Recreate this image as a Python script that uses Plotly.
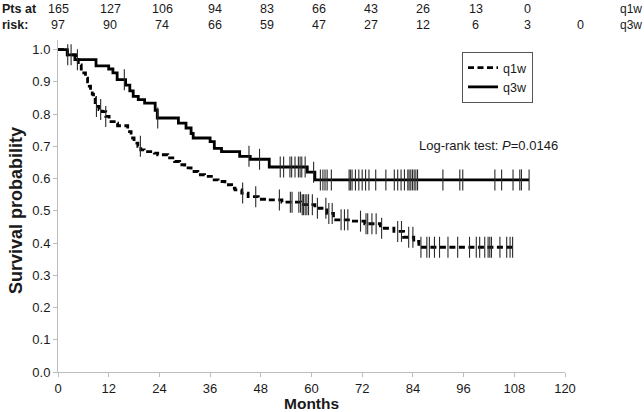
import numpy as np
import plotly.graph_objects as go

# ---------------- data ----------------
month_ticks = list(range(0, 121, 12))
y_ticks = [round(0.1 * i, 1) for i in range(11)]

# q1w (dashed) Kaplan-Meier step points: start time of each level, survival level
q1w_t = [0, 2.2, 4.2, 4.8, 5.5, 6.1, 6.5, 7.0, 7.4, 7.7, 8.1, 8.4, 8.8, 9.7, 10.5, 11.3,
         12.1, 13.3, 14.1, 16.5, 17.3, 18.0, 18.9, 19.6, 20.4, 22.8, 23.6, 26.0, 27.6,
         28.8, 30.0, 31.5, 33.1, 34.7, 36.3, 37.9, 39.5, 41.1, 41.9, 43.5, 45.0, 47.4,
         49.8, 53.0, 57.5, 60.8, 63.6, 65.2, 69.5, 72.6, 76.3, 79.5, 81.8, 84.2, 85.4]
q1w_s = [1.0, 0.984, 0.969, 0.953, 0.940, 0.928, 0.912, 0.900, 0.887, 0.876, 0.862, 0.850,
         0.824, 0.814, 0.808, 0.793, 0.777, 0.772, 0.764, 0.746, 0.726, 0.710, 0.700, 0.689,
         0.684, 0.679, 0.674, 0.664, 0.653, 0.643, 0.633, 0.622, 0.612, 0.607, 0.596, 0.591,
         0.581, 0.570, 0.565, 0.555, 0.544, 0.536, 0.534, 0.527, 0.519, 0.508, 0.492, 0.472,
         0.468, 0.460, 0.446, 0.436, 0.418, 0.405, 0.387]
q1w_end = 107.6
q1w_censor = [2.3, 4.6, 9.1, 10.1, 11.3, 19.5, 43.7, 46.8, 52.4, 55.0, 55.4, 57.0, 57.4,
              57.8, 58.1, 58.5, 58.9, 59.3, 60.2, 61.4, 63.4, 64.1, 64.9, 67.0, 67.8, 68.6,
              71.6, 72.9, 73.3, 74.3, 75.3, 76.6, 80.4, 81.3, 83.0, 84.0, 85.9, 87.3, 87.9,
              89.1, 90.3, 92.3, 94.6, 97.4, 99.0, 99.8, 101.0, 101.8, 102.2, 102.6, 104.6,
              106.2, 107.0, 107.6]

# q3w (solid)
q3w_t = [0, 2.2, 4.0, 9.0, 12.0, 13.0, 14.0, 16.0, 17.0, 17.8, 19.0, 20.5, 23.0, 23.5,
         28.5, 30.3, 31.5, 32.0, 36.0, 37.0, 38.7, 43.0, 45.5, 50.0, 59.0, 60.8]
q3w_s = [1.0, 0.984, 0.969, 0.950, 0.940, 0.928, 0.907, 0.890, 0.872, 0.855, 0.845, 0.834,
         0.812, 0.788, 0.772, 0.757, 0.740, 0.726, 0.715, 0.694, 0.684, 0.669, 0.660, 0.636,
         0.620, 0.596]
q3w_end = 111.5
q3w_censor = [3.1, 15.7, 23.6, 45.2, 47.7, 52.6, 53.4, 54.9, 55.3, 56.1, 56.9, 57.3, 57.7,
              58.5, 60.5, 62.1, 62.7, 63.2, 63.7, 64.7, 68.9, 69.2, 69.6, 70.4, 71.2, 72.0,
              72.8, 73.6, 75.2, 77.6, 79.6, 80.4, 81.2, 82.0, 82.8, 83.1, 83.5, 83.9, 84.3,
              84.7, 85.1, 91.1, 95.1, 95.8, 103.4, 105.0, 107.7, 109.3, 109.7, 111.5]

risk_q1w = ["165", "127", "106", "94", "83", "66", "43", "26", "13", "0", ""]
risk_q3w = ["97", "90", "74", "66", "59", "47", "27", "12", "6", "3", "0"]
group_names = ["q1w", "q3w"]

# ---------------- helpers ----------------
def step_path(ts, ss, end):
    return list(ts) + [end], list(ss) + [ss[-1]]

def level_at(ts, ss, times):
    idx = np.searchsorted(np.array(ts), np.array(times), side="right") - 1
    return np.array(ss)[idx]

W, H = 644, 412
ML, MR, MT, MB = 58, 79, 40, 40
PW, PH = W - ML - MR, H - MT - MB

def px(xp):
    return (xp - ML) / PW

def py(yp):
    return (H - MB - yp) / PH

FONT = "Liberation Sans, Arial, sans-serif"
TXT = "#1a1a1a"
AX = "#bdbdbd"

fig = go.Figure()

x1, y1 = step_path(q1w_t, q1w_s, q1w_end)
fig.add_trace(go.Scatter(x=x1, y=y1, mode="lines", name=group_names[0],
                         line=dict(shape="hv", color="black", width=2.8, dash="6px,3.5px")))
x3, y3 = step_path(q3w_t, q3w_s, q3w_end)
fig.add_trace(go.Scatter(x=x3, y=y3, mode="lines", name=group_names[1],
                         line=dict(shape="hv", color="black", width=2.8)))

for ts, ss, cens in [(q1w_t, q1w_s, q1w_censor), (q3w_t, q3w_s, q3w_censor)]:
    fig.add_trace(go.Scatter(x=cens, y=level_at(ts, ss, cens), mode="markers",
                             showlegend=False, hoverinfo="skip",
                             marker=dict(symbol="line-ns", size=15,
                                         line=dict(width=1.1, color="#2a2a2a"))))

ann = []
# risk table
col_x0, col_dx = 58, 52.2
RF = 12.5
ann.append(dict(text="<b>Pts at</b>", x=px(0), y=py(9), xref="paper", yref="paper",
                xanchor="left", yanchor="middle", showarrow=False,
                font=dict(size=RF, color=TXT, family=FONT)))
ann.append(dict(text="<b>risk:</b>", x=px(0), y=py(25), xref="paper", yref="paper",
                xanchor="left", yanchor="middle", showarrow=False,
                font=dict(size=RF, color=TXT, family=FONT)))
for row, (vals, yy) in enumerate([(risk_q1w, 9), (risk_q3w, 25)]):
    for i, v in enumerate(vals):
        if v == "":
            continue
        ann.append(dict(text=v, x=px(col_x0 + i * col_dx), y=py(yy), xref="paper",
                        yref="paper", xanchor="center", yanchor="middle", showarrow=False,
                        font=dict(size=RF, color=TXT, family=FONT)))
    ann.append(dict(text=group_names[row], x=px(618), y=py(yy), xref="paper", yref="paper",
                    xanchor="left", yanchor="middle", showarrow=False,
                    font=dict(size=12, color=TXT, family=FONT)))

ann.append(dict(text="Log-rank test: <i>P</i>=0.0146", x=px(560), y=py(145),
                xref="paper", yref="paper", xanchor="right", yanchor="middle",
                showarrow=False, font=dict(size=13, color=TXT, family=FONT)))
ann.append(dict(text="<b>Months</b>", x=px((ML + W - MR) / 2), y=py(403), xref="paper",
                yref="paper", xanchor="center", yanchor="middle", showarrow=False,
                font=dict(size=15.5, color=TXT, family=FONT)))
ann.append(dict(text="<b>Survival probability</b>", x=px(16), y=py(211), xref="paper",
                yref="paper", xanchor="center", yanchor="middle", textangle=-90,
                showarrow=False, font=dict(size=18, color=TXT, family=FONT)))

fig.update_layout(
    width=W, height=H, margin=dict(l=ML, r=MR, t=MT, b=MB),
    plot_bgcolor="white", paper_bgcolor="white",
    font=dict(family=FONT, color=TXT, size=12),
    annotations=ann,
    legend=dict(x=px(462), y=py(52), xanchor="left", yanchor="top",
                bgcolor="white", bordercolor="#555", borderwidth=1,
                font=dict(size=12.5, color=TXT, family=FONT),
                tracegroupgap=0, itemwidth=30),
    xaxis=dict(range=[0, 120], tickvals=month_ticks, showgrid=False, zeroline=False,
               showline=True, linecolor=AX, linewidth=1, ticks="outside", ticklen=4,
               tickcolor=AX, tickfont=dict(size=13, color=TXT)),
    yaxis=dict(range=[0, 1.03], tickvals=y_ticks, tickformat=".1f", showgrid=False,
               zeroline=False, showline=True, linecolor=AX, linewidth=1, ticks="outside",
               ticklen=4, tickcolor=AX, tickfont=dict(size=13, color=TXT)),
)

fig.write_html("out.html", config={"displayModeBar": False},
               post_script="document.body.style.margin='0px';")
